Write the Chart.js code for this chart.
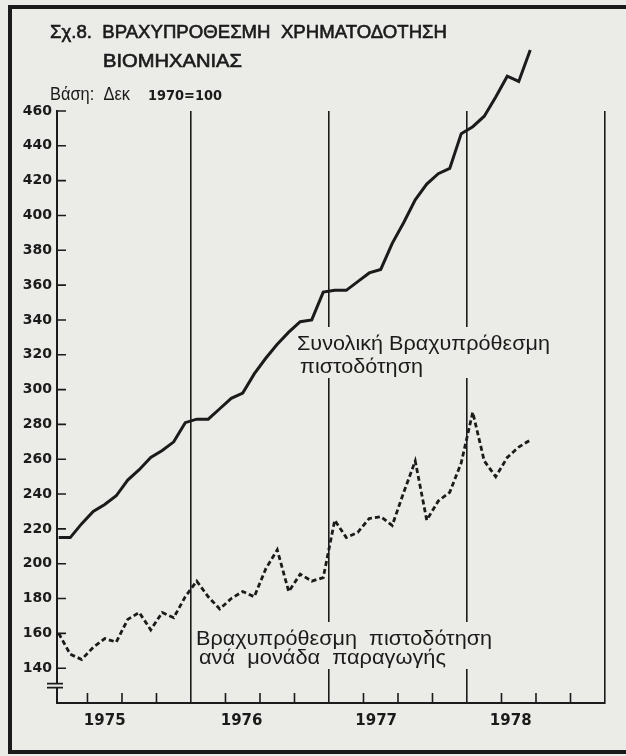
<!DOCTYPE html>
<html>
<head>
<meta charset="utf-8">
<script src="https://cdn.jsdelivr.net/npm/chart.js@4.4.1/dist/chart.umd.min.js"></script>
<style>
body{margin:0;background:rgb(235,235,232);}
canvas{display:block;}
</style>
</head>
<body>
<canvas id="graph" width="626" height="756"></canvas>
<script>
// monthly index, Dec 1970 = 100, from Jan 1975 to Jun 1978
const months = ['1975-01','1975-02','1975-03','1975-04','1975-05','1975-06','1975-07','1975-08','1975-09','1975-10','1975-11','1975-12',
                '1976-01','1976-02','1976-03','1976-04','1976-05','1976-06','1976-07','1976-08','1976-09','1976-10','1976-11','1976-12',
                '1977-01','1977-02','1977-03','1977-04','1977-05','1977-06','1977-07','1977-08','1977-09','1977-10','1977-11','1977-12',
                '1978-01','1978-02','1978-03','1978-04','1978-05','1978-06']

const totalCredit = [215,215,223,230,234,239,248,254,261,265,270,281,
                     283,283,289,295,298,309,318,326,333,339,340,356,
                     357,357,362,367,369,384,396,409,418,424,427,447,
                     451,457,468,480,477,495]

const creditPerUnit = [160,148,145,152,157,155,168,172,162,172,169,181,
                       190,181,174,180,184,181,197,208,184,194,190,192,
                       225,215,218,226,227,222,241,259,225,236,241,258,
                       287,259,250,261,267,271]

const yTicks = [140,160,180,200,220,240,260,280,300,320,340,360,380,400,420,440,460]
const axisBreak = 130
const quarterTicks = [3,6,9,15,18,21,27,30,33,39,42,45]
const yearLines = [12,24,36,48]
const yearLabelPos = [4.5,16.4,28.1,39.8]
const yearLabels = ['1975','1976','1977','1978']

const titleLines = ['Σχ.8.  ΒΡΑΧΥΠΡΟΘΕΣΜΗ  ΧΡΗΜΑΤΟΔΟΤΗΣΗ','ΒΙΟΜΗΧΑΝΙΑΣ']
const baseText = ['Βάση:  Δεκ','1970=100']
const noteTotal = ['Συνολική Βραχυπρόθεσμη','πιστοδότηση']
const notePerUnit = ['Βραχυπρόθεσμη  πιστοδότηση','ανά  μονάδα  παραγωγής']

const paper = 'rgb(235,235,232)'
const ink = '#1b1b1b'
const textFont = '21px "Liberation Sans", Arial, sans-serif'
const boldNum = 'bold 14px "DejaVu Sans", sans-serif'

function fitText(ctx, t, x, y, w, thick){ // stretch the text to the width it has in the print
    const m = ctx.measureText(t).width
    ctx.save()
    ctx.translate(x, y)
    ctx.scale(w / m, 1)
    ctx.fillText(t, 0, 0)
    if (thick) { ctx.lineWidth = thick; ctx.strokeText(t, 0, 0) }
    ctx.restore()
}

function drawNote(ctx, lines, x, y, widths, gap){ // paper box behind the text so the year lines are cut
    ctx.font = textFont
    ctx.fillStyle = paper
    ctx.fillRect(x - 3, y - 23, Math.max(...widths) + 6, gap * (lines.length - 1) + 28)
    ctx.fillStyle = ink
    lines.forEach((t, i) => fitText(ctx, t, x + (i ? 3 : 0), y + i * gap, widths[i]))
}

const inkPlugin = {
    id: 'paperAndInk',
    beforeDraw: (chart) => {
        const {ctx, width, height} = chart
        ctx.save()
        ctx.fillStyle = paper
        ctx.fillRect(0, 0, width, height)
        ctx.restore()
    },
    beforeDatasetsDraw: (chart) => {
        const {ctx, chartArea: a, scales: {x, y}} = chart
        ctx.save()
        ctx.strokeStyle = ink
        ctx.lineWidth = 1.6
        ctx.beginPath()
        yTicks.forEach(v => { const py = y.getPixelForValue(v); ctx.moveTo(a.left, py); ctx.lineTo(a.left + 9, py) })
        quarterTicks.forEach(v => { const px = x.getPixelForValue(v); ctx.moveTo(px, a.bottom); ctx.lineTo(px, a.bottom - 10) })
        ctx.stroke()

        // axis break "="
        const pb = y.getPixelForValue(axisBreak)
        ctx.fillStyle = paper
        ctx.fillRect(a.left - 3, pb - 2, 6, 4)
        ctx.beginPath()
        ctx.moveTo(a.left - 10, pb - 2); ctx.lineTo(a.left + 6, pb - 2)
        ctx.moveTo(a.left - 10, pb + 2); ctx.lineTo(a.left + 6, pb + 2)
        ctx.stroke()

        drawNote(ctx, noteTotal, 297, 350, [253, 123], 23)
        drawNote(ctx, notePerUnit, 196, 645, [296, 247], 19)
        ctx.restore()
    },
    afterDraw: (chart) => {
        const {ctx, width, height} = chart
        ctx.save()
        ctx.fillStyle = ink
        ctx.strokeStyle = ink
        ctx.font = '18px "Liberation Sans", Arial, sans-serif'
        fitText(ctx, titleLines[0], 50, 38, 397, 0.6)
        fitText(ctx, titleLines[1], 103, 67, 139, 0.6)
        fitText(ctx, baseText[0], 50, 100, 80)
        ctx.font = boldNum
        fitText(ctx, baseText[1], 148, 100, 74)
        // frame of the page (left, top, bottom)
        ctx.lineWidth = 4
        ctx.beginPath()
        ctx.moveTo(width, 7); ctx.lineTo(10, 7); ctx.lineTo(10, height - 4); ctx.lineTo(width, height - 4)
        ctx.stroke()
        ctx.restore()
    }
}

const config = {
    type: 'line',
    data: {
        datasets: [{
            label: 'Συνολική Βραχυπρόθεσμη πιστοδότηση',
            data: months.map((m, i) => ({x: i + 0.5, y: totalCredit[i]})),
            borderColor: ink,
            borderWidth: 3,
            pointRadius: 0,
            tension: 0,
            clip: false,
        }, {
            label: 'Βραχυπρόθεσμη πιστοδότηση ανά μονάδα παραγωγής',
            data: months.map((m, i) => ({x: i + 0.5, y: creditPerUnit[i]})),
            borderColor: ink,
            borderWidth: 2.8,
            borderDash: [5, 3],
            pointRadius: 0,
            tension: 0,
        }]
    },
    options: {
        responsive: false,
        animation: false,
        layout: {padding: {left: 12, right: 21, top: 111, bottom: 23}},
        plugins: {
            legend: {display: false},
            title: {display: false},
            tooltip: {enabled: false},
        },
        scales: {
            x: {
                type: 'linear',
                min: 0.35,
                max: 48,
                afterBuildTicks: (s) => { s.ticks = yearLines.concat(yearLabelPos).map(v => ({value: v})) },
                afterFit: (s) => { s.height = 30 },
                grid: {
                    drawTicks: false,
                    color: (c) => yearLines.includes(c.tick && c.tick.value) ? ink : 'rgba(0,0,0,0)',
                    lineWidth: 1.6,
                },
                border: {display: true, color: ink, width: 2},
                ticks: {
                    autoSkip: false,
                    maxRotation: 0,
                    padding: 9,
                    color: ink,
                    font: {family: 'DejaVu Sans', weight: 'bold', size: 15},
                    callback: (v) => { const k = yearLabelPos.indexOf(v); return k >= 0 ? yearLabels[k] : '' },
                },
            },
            y: {
                min: 120,
                max: 460,
                afterBuildTicks: (s) => { s.ticks = yTicks.map(v => ({value: v})) },
                afterFit: (s) => { s.width = 45 },
                grid: {drawOnChartArea: false, drawTicks: false},
                border: {display: true, color: ink, width: 2},
                ticks: {
                    padding: 5,
                    color: ink,
                    font: {family: 'DejaVu Sans', weight: 'bold', size: 14},
                },
            },
        },
    },
    plugins: [inkPlugin]
}

const chart = new Chart(document.getElementById('graph'), config)
</script>
</body>
</html>
